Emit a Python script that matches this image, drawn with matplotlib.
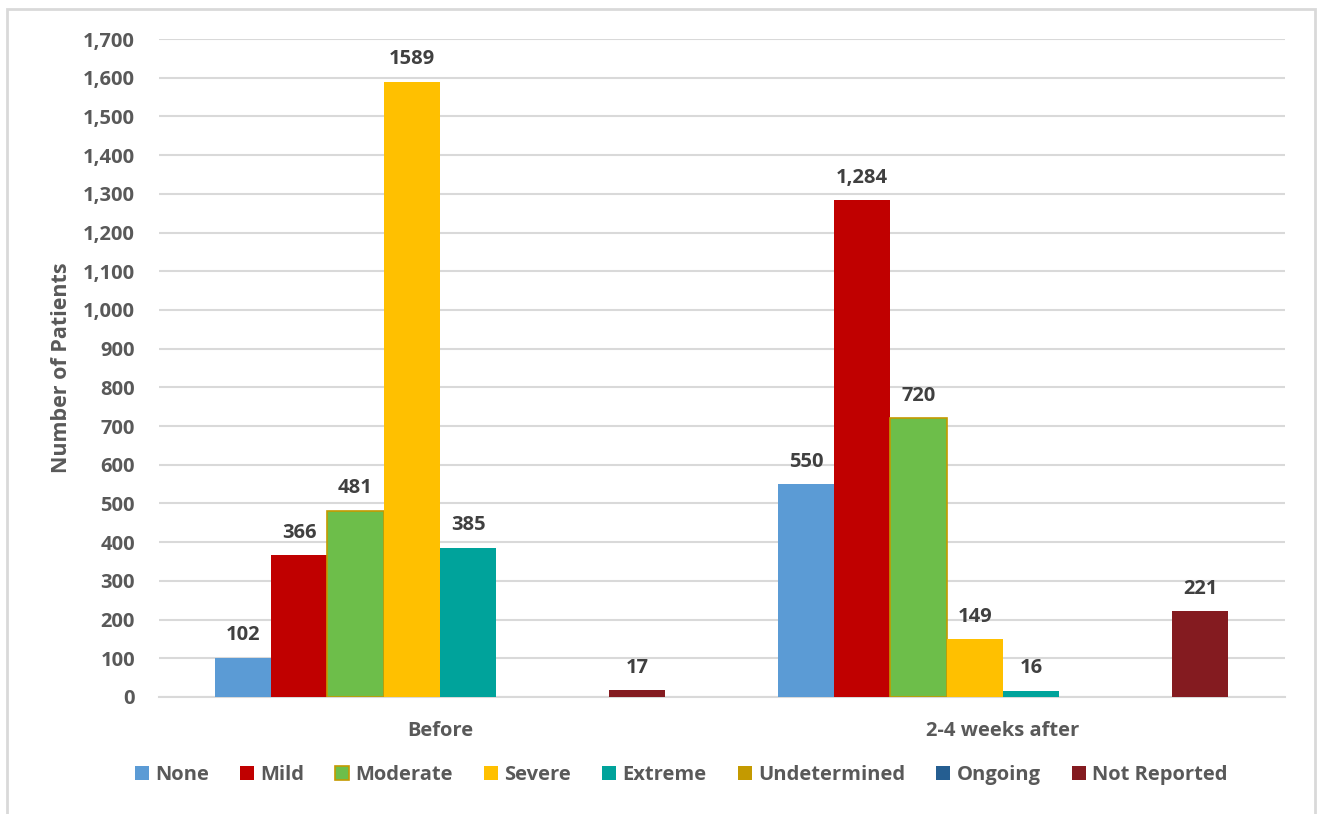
import numpy as np
import matplotlib.pyplot as plt
from matplotlib.patches import Rectangle
from matplotlib.ticker import FuncFormatter

categories = ["Before", "2-4 weeks after"]
series = ["None", "Mild", "Moderate", "Severe", "Extreme", "Undetermined", "Ongoing", "Not Reported"]
values = {
    "None": [102, 550],
    "Mild": [366, 1284],
    "Moderate": [481, 720],
    "Severe": [1589, 149],
    "Extreme": [385, 16],
    "Undetermined": [0, 0],
    "Ongoing": [0, 0],
    "Not Reported": [17, 221],
}
labels = {
    "None": ["102", "550"],
    "Mild": ["366", "1,284"],
    "Moderate": ["481", "720"],
    "Severe": ["1589", "149"],
    "Extreme": ["385", "16"],
    "Undetermined": ["", ""],
    "Ongoing": ["", ""],
    "Not Reported": ["17", "221"],
}
colors = ["#5B9BD5", "#C00000", "#6DBE4A", "#FFC000", "#00A39B", "#C49A00", "#255E91", "#841B20"]

plt.rcParams['font.family'] = ['Open Sans', 'DejaVu Sans']
plt.rcParams['font.weight'] = 'bold'

W, H = 1317, 814
fig = plt.figure(figsize=(W / 100, H / 100), dpi=100)
ax = fig.add_axes([158.5 / W, 1 - 697 / H, 1126 / W, 658 / H])

# outer chart border
fig.patches.append(Rectangle((7 / W, -0.02), 1308 / W, 1.02 - 9.5 / H, transform=fig.transFigure,
                             fill=False, edgecolor="#D9D9D9", linewidth=2))

x = np.arange(len(categories))
width = 0.1
for j, name in enumerate(series):
    pos = x + (j - 3.5) * width
    if name == "Moderate":
        ax.bar(pos, values[name], width, color=colors[j], edgecolor="#C49A00", linewidth=1.2,
               label=name, zorder=3)
    else:
        ax.bar(pos, values[name], width, color=colors[j], label=name, zorder=3)
    for p, v, t in zip(pos, values[name], labels[name]):
        if t:
            ax.annotate(t, (p, v), xytext=(0, 9), textcoords="offset points", ha="center",
                        va="bottom", fontsize=14.5, fontweight="bold", color="#404040")

ax.set_xlim(-0.5, 1.5)
ax.set_ylim(0, 1700)
ax.set_yticks(np.arange(0, 1701, 100))
ax.yaxis.set_major_formatter(FuncFormatter(lambda v, p: f"{int(v):,}"))
ax.set_xticks(x)
ax.set_xticklabels(categories)
ax.grid(axis="y", color="#D9D9D9", linewidth=1.5, zorder=0)
for s in ["top", "right", "left"]:
    ax.spines[s].set_visible(False)
ax.spines["bottom"].set_color("#D9D9D9")
ax.spines["bottom"].set_linewidth(1.5)
ax.tick_params(axis="both", length=0, labelsize=14.5, colors="#595959")
ax.tick_params(axis="y", pad=17)
ax.tick_params(axis="x", pad=17)
for t in ax.get_xticklabels() + ax.get_yticklabels():
    t.set_fontweight("bold")
ax.set_ylabel("Number of Patients", fontsize=15.5, fontweight="bold", color="#595959", labelpad=8)

fig.legend(loc="center", bbox_to_anchor=(681 / W, 1 - 775 / H), ncol=8, frameon=False,
           handlelength=0.7, handleheight=0.7, handletextpad=0.3, columnspacing=1.55,
           prop={"size": 14.5, "weight": "bold"}, labelcolor="#595959")

fig.savefig("out.png", dpi=100)
